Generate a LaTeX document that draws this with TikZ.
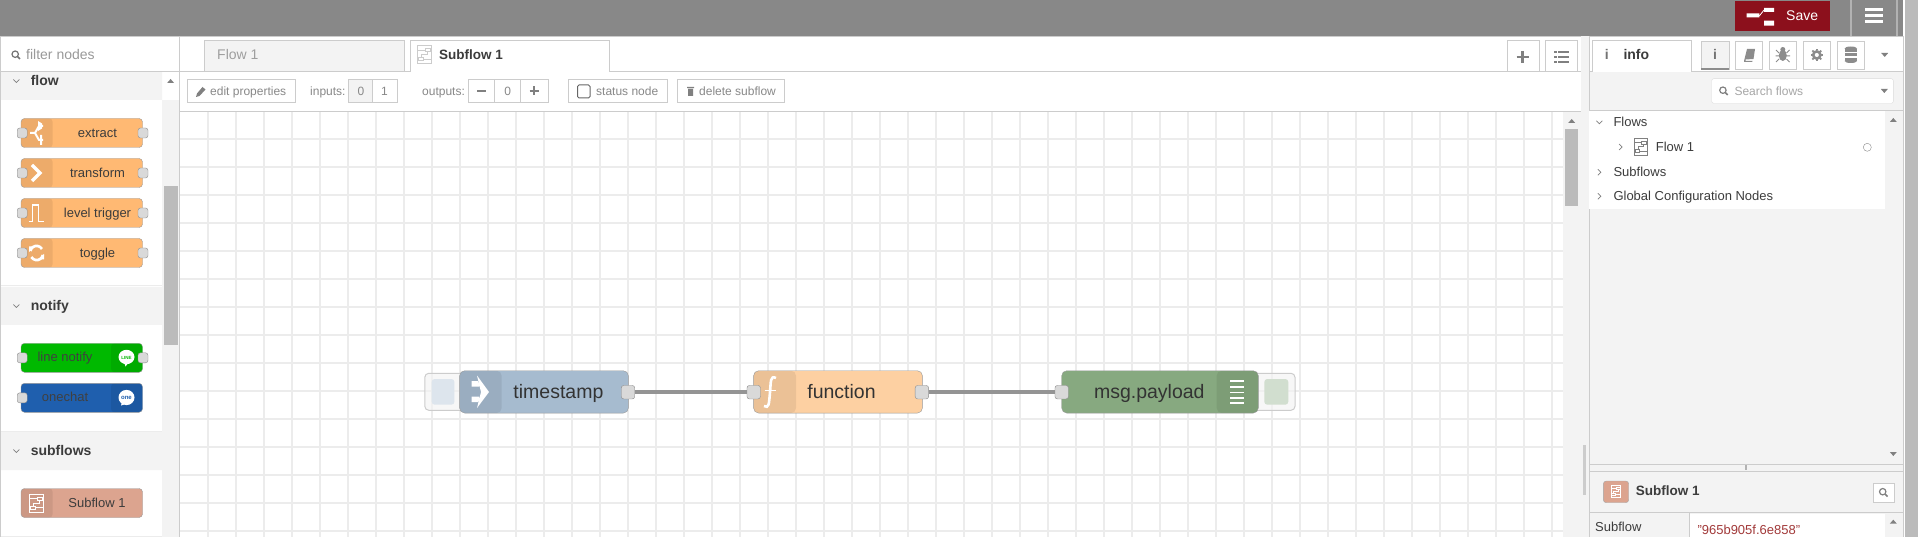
\documentclass[tikz,border=0pt]{standalone}
\usepackage{fontspec}
\setmainfont{Liberation Sans}
\definecolor{hdrgray}{HTML}{888888}
\definecolor{savered}{HTML}{8C101C}
\definecolor{panelgray}{HTML}{F3F3F3}
\definecolor{linegray}{HTML}{CCCCCC}
\definecolor{gridgray}{HTML}{ECECEC}
\definecolor{barthumb}{HTML}{BBBBBB}
\definecolor{darktext}{HTML}{3C3C3C}
\definecolor{softtext}{HTML}{888888}
\definecolor{palorange}{HTML}{FFB973}
\definecolor{subflowred}{HTML}{DCA48F}
\definecolor{linegreen}{HTML}{00B900}
\definecolor{oneblue}{HTML}{1F5FAE}
\definecolor{injectblue}{HTML}{A6BBCF}
\definecolor{funcorange}{HTML}{FDD0A2}
\definecolor{debuggreen}{HTML}{87A980}
\definecolor{valuered}{HTML}{A23A3A}
\tikzset{
    txt/.style={inner sep=0pt, anchor=mid west, yshift=-1.8pt, text=darktext, font=\fontsize{13}{15}\selectfont},
    midtxt/.style={txt, anchor=mid},
    bigtxt/.style={midtxt, yshift=-3pt, text=black!80, font=\fontsize{19.5}{22}\selectfont},
    toolbtn/.style={draw=linegray, fill=white},
    port/.style={draw=black!45, fill=black!15, rounded corners=2.5pt, inner sep=0pt, minimum width=#1, minimum height=#1},
    port/.default=10,
    bigport/.style={port=13.5},
    palbody/.style={draw=black!40, rounded corners=3.5pt, inner sep=0pt, minimum width=121.5, minimum height=29},
    flowbody/.style={draw=black!40, rounded corners=5pt, inner sep=0pt, minimum height=42.3},
    darkleft/.style={path picture={\fill[black, opacity=.07] (path picture bounding box.north west) rectangle ([xshift=#1]path picture bounding box.south west);}},
    darkright/.style={path picture={\fill[black, opacity=.07] (path picture bounding box.north east) rectangle ([xshift=-#1]path picture bounding box.south east);}},
    ghostbtn/.style={draw=black!20, line width=1pt, fill=panelgray, fill opacity=.6, rounded corners=4pt},
    wire/.style={draw=black!42, line width=3.6pt},
    gridline/.style={draw=gridgray, line width=2pt},
    chevron/.style={draw=black!50, line width=.7pt},
    iconline/.style={draw=white, line width=2pt},
    sidebtn/.style={draw=linegray, fill=white, inner sep=0pt, minimum width=27.5, minimum height=27.5},
}
% small helpers, all in picture coordinates
\newcommand{\chevdown}[2]{\draw[chevron] (#1-3,#2-1.5) -- (#1,#2+1.5) -- (#1+3,#2-1.5);}
\newcommand{\chevright}[2]{\draw[chevron] (#1-1.5,#2-3) -- (#1+1.5,#2) -- (#1-1.5,#2+3);}
\newcommand{\triup}[2]{\fill[black!50] (#1-3.5,#2+2) -- (#1+3.5,#2+2) -- (#1,#2-2) -- cycle;}
\newcommand{\tridown}[2]{\fill[black!50] (#1-3.5,#2-2) -- (#1+3.5,#2-2) -- (#1,#2+2) -- cycle;}
\newcommand{\lens}[3]{\draw[#3, line width=1.2pt] (#1-.8,#2-.8) circle (3.2); \draw[#3, line width=1.6pt] (#1+1.6,#2+1.6) -- (#1+4,#2+4);}
\newcommand{\sficon}[4]{
    \begin{scope}[shift={(#1,#2)}, scale=#4]
        \draw[#3, line width=1pt] (-7,-9) rectangle (7,9);
        \draw[#3, line width=1pt] (1,-6) rectangle (6,-3);
        \draw[#3, line width=1pt] (-6,3) rectangle (-1,6);
        \draw[#3, line width=1pt] (-7,-4.5) -- (1,-4.5) (6,-4.5) -- (7,-4.5) (-1,4.5) -- (7,4.5);
        \draw[#3, line width=1pt] (3,-3) -- (3,0) -- (-3,0) -- (-3,3);
    \end{scope}}
\begin{document}
\begin{tikzpicture}[x=1pt, y=-1pt]
    \useasboundingbox (0,0) rectangle (1920,537);
    \fill[white] (0,0) rectangle (1920,537);

    % Cabecera
    \fill[hdrgray] (0,0) rectangle (1903,36);
    \draw[linegray] (0,36) -- (1903,36);
    \fill[savered] (1735,1) rectangle (1830,31);
    \fill[white] (1746.7,13.5) rectangle (1759.3,17.5) (1764,8) rectangle (1774,12) (1764,20.7) rectangle (1774,25.7);
    \draw[white, line width=.8pt] (1759.3,16) -- (1764,10);
    \node[txt, text=white, font=\fontsize{14}{16}\selectfont] (savelabel) at (1786,16) {Save};
    \draw[black!30, line width=1.2pt] (1851,0) -- (1851,36) (1897,0) -- (1897,36);
    \foreach \by in {10,16,22}
        \draw[white, line width=3pt] (1865,\by) -- (1882.7,\by);
    % Barra de la ventana
    \fill[barthumb] (1905,0) rectangle (1917.7,537);

    % Paleta
    \fill[panelgray] (162,100) rectangle (179.5,537);
    \fill[barthumb] (164,186) rectangle (177.5,345);
    \fill[panelgray] (0,72) rectangle (162,100) (0,287) rectangle (162,325) (0,432) rectangle (162,470);
    \draw[gridgray, line width=1pt] (0,286) -- (162,286) (0,431.5) -- (162,431.5) (0,536) -- (162,536);
    \draw[linegray] (0,36) -- (0,537) (179.5,36) -- (179.5,537) (0,71) -- (179.5,71);
    \triup{170.6}{81}
    \lens{16}{55}{black!55}
    \node[txt, text=black!40, font=\fontsize{14}{16}\selectfont] (filterlabel) at (26,55) {filter nodes};
    \foreach \sname/\sy in {flow/81, notify/306, subflows/451} {
        \chevdown{16.3}{\sy}
        \node[txt, font=\bfseries\fontsize{14}{16}\selectfont] (head\sname) at (30.6,\sy) {\sname};
    }
    % Nodos de la paleta
    \foreach \pname/\py/\plabel in {extract/133/extract, transform/173/transform, trigger/213/level trigger, toggle/253/toggle} {
        \node[palbody, fill=palorange, darkleft=31.7] (\pname) at (81.75,\py) {};
        \node[port] (\pname in) at (22.2,\py) {};
        \node[port] (\pname out) at (143,\py) {};
        \node[midtxt] (\pname label) at (97.5,\py) {\plabel};
    }
    % Iconos de la paleta
    \draw[iconline] (30,133) -- (35,133) -- (39,126) -- (43,126) (35,133) -- (39,140) -- (43,140);
    \fill[white] (38,121) -- (42,123.5) -- (42,128.5) -- (38,131) -- cycle (40,135) -- (42,135) -- (42,145) -- (40,145) -- cycle;
    \draw[iconline, line width=3.4pt] (32,165) -- (40,173) -- (32,181);
    \draw[iconline, line width=1.4pt] (28.6,221.5) -- (32.5,221.5) -- (32.5,205) -- (38.5,205) -- (38.5,221.5) -- (44,221.5);
    \draw[iconline, line width=2.6pt] (30.5,251) arc (190:330:6.2) (42.8,255) arc (10:150:6.2);
    \fill[white] (29,246.5) -- (35,246.5) -- (29,252) -- cycle (44,259.5) -- (38,259.5) -- (44,254) -- cycle;

    \node[palbody, fill=linegreen, darkright=31.5] (linenotify) at (81.75,357.8) {};
    \node[port] (linenotify in) at (22.2,357.8) {};
    \node[port] (linenotify out) at (143,357.8) {};
    \node[midtxt, text=black!75] (linenotify label) at (65,357.5) {line notify};
    \fill[white] (126.5,357) ellipse (8 and 7.2) (124,362) -- (129,362) -- (125.5,366.5) -- cycle;
    \node[midtxt, yshift=1.8pt, text=linegreen, font=\bfseries\fontsize{4.5}{5}\selectfont] (linelogo) at (126.5,357) {LINE};

    \node[palbody, fill=oneblue, darkright=31.5] (onechat) at (81.75,397.8) {};
    \node[port] (onechat in) at (22.2,397.8) {};
    \node[midtxt, text=black!75] (onechat label) at (65,397.5) {onechat};
    \fill[white] (126.5,397.5) ellipse (8 and 7.6) (122,402) -- (126,404) -- (121,405.5) -- cycle;
    \node[midtxt, yshift=1.8pt, text=oneblue, font=\bfseries\fontsize{6}{7}\selectfont] (onelogo) at (126.5,397.3) {one};

    \node[palbody, fill=subflowred, darkleft=31.7] (subflowpal) at (81.75,503) {};
    \node[midtxt] (subflowpal label) at (97,503) {Subflow 1};
    \sficon{36.4}{503}{white}{1}

    % Pestanas
    \draw[linegray, fill=panelgray] (204,71) -- (204,40.5) -- (403.7,40.5) -- (403.7,71);
    \node[txt, text=black!38, font=\fontsize{14}{16}\selectfont] (flowtab) at (217,55) {Flow 1};
    \draw[linegray] (179.5,71) -- (1580.7,71);
    \draw[linegray, fill=white] (410,71.5) -- (410,40.5) -- (609.4,40.5) -- (609.4,71.5);
    \fill[white] (410.5,70) rectangle (609,72.5);
    \sficon{424.8}{55}{black!20}{1}
    \node[txt, font=\bfseries\fontsize{13.5}{16}\selectfont] (subflowtab) at (439,55) {Subflow 1};
    \draw[toolbtn] (1507,71) -- (1507,40.5) -- (1538.7,40.5) -- (1538.7,71);
    \draw[toolbtn] (1545.3,71) -- (1545.3,40.5) -- (1576.7,40.5) -- (1576.7,71);
    \draw[black!50, line width=2.6pt] (1516.7,57) -- (1528.7,57) (1522.7,51) -- (1522.7,63);
    \foreach \by in {52,57,62} {
        \draw[black!50, line width=1.6pt] (1558,\by) -- (1569,\by);
        \fill[black!50] (1554,\by-1) rectangle (1556.5,\by+1);
    }

    % Barra de herramientas
    \draw[linegray] (179.5,111.5) -- (1580.7,111.5);
    \draw[toolbtn] (187.3,79.3) rectangle (294.7,102.7);
    \fill[black!50] (196,97) -- (197,93.5) -- (202.5,87) -- (205.5,89.5) -- (199.5,96) -- cycle;
    \draw[toolbtn] (348,79.3) rectangle (396.7,102.7);
    \fill[panelgray] (348.5,79.8) rectangle (372.6,102.2);
    \draw[linegray] (372.6,79.3) -- (372.6,102.7);
    \draw[toolbtn] (468,79.3) rectangle (548,102.7);
    \draw[linegray] (494,79.3) -- (494,102.7) (520,79.3) -- (520,102.7);
    \draw[black!50, line width=2pt] (477,91) -- (486,91) (529.5,91) -- (538.5,91) (534,86.5) -- (534,95.5);
    \draw[toolbtn] (568.6,79.3) rectangle (667,102.7);
    \draw[black!60, line width=1pt, rounded corners=1.5pt] (577.5,85) rectangle (590,98);
    \draw[toolbtn] (677,79.3) rectangle (784,102.7);
    \fill[black!50] (687,87) rectangle (694,88.2) (688,88.8) rectangle (693,96);
    \foreach \tname/\tx/\tlabel in {edit/210/edit properties, inputs/310/inputs:, outputs/422/outputs:, status/596/status node, delete/699/delete subflow}
        \node[txt, text=softtext, font=\fontsize{12}{14}\selectfont] (\tname label) at (\tx,91) {\tlabel};
    \foreach \tname/\tx/\tlabel in {inzero/361/0, inone/384.5/1, outzero/507.8/0}
        \node[midtxt, text=softtext, font=\fontsize{12}{14}\selectfont] (\tname) at (\tx,91) {\tlabel};

    % Rejilla
    \foreach \gx in {0,...,48}
        \draw[gridline] ({208.3+28*\gx},112) -- ({208.3+28*\gx},537);
    \foreach \gy in {0,...,14}
        \draw[gridline] (180,{139.3+28*\gy}) -- (1563,{139.3+28*\gy});
    % Barra del lienzo
    \fill[panelgray] (1563,112) rectangle (1580.5,537);
    \fill[barthumb] (1565,129) rectangle (1577.7,206);
    \triup{1571.7}{121}
    \draw[linegray] (1580.7,71) -- (1580.7,537);
    \fill[panelgray] (1581.2,36.5) rectangle (1588.5,537);
    \fill[linegray] (1583,445) rectangle (1586,495);

    % Flujo
    \draw[ghostbtn] (470,373.3) rectangle (424.8,410.3);
    \fill[injectblue!38!white, rounded corners=3pt] (431.7,379) rectangle (454.4,404.7);
    \draw[ghostbtn] (1250,373.3) rectangle (1295,410.3);
    \fill[debuggreen!38!white, rounded corners=3pt] (1264.3,379) rectangle (1288.3,404.7);

    \node[flowbody, fill=injectblue, darkleft=42, minimum width=168.7] (timestamp) at (544,391.9) {};
    \node[flowbody, fill=funcorange, darkleft=42.4, minimum width=168.8] (function) at (838,391.9) {};
    \node[flowbody, fill=debuggreen, darkright=41.6, minimum width=196.6] (payload) at (1160,391.9) {};

    \node[bigport] (timestamp out) at (628,392.2) {};
    \node[bigport] (function in) at (753.7,392.2) {};
    \node[bigport] (function out) at (921.9,392.2) {};
    \node[bigport] (payload in) at (1061.7,392.2) {};
    \draw[wire] (timestamp out) -- (function in);
    \draw[wire] (function out) -- (payload in);

    \node[bigtxt] (timestamp label) at (558.4,391.5) {timestamp};
    \node[bigtxt] (function label) at (841.5,391.5) {function};
    \node[bigtxt] (payload label) at (1149.3,391.5) {msg.payload};

    % Iconos del flujo
    \fill[white] (471.7,381) rectangle (479,386.5) (471.7,396.5) rectangle (479,402) (477,375.5) -- (489,392) -- (477,408) -- (481,392) -- cycle;
    \draw[white, line width=2.6pt] (776,378) .. controls (770,375) and (771,382) .. (770,392) .. controls (769,404) and (769,409) .. (764,406);
    \draw[white, line width=1.8pt] (764.5,390.5) -- (776,390.5);
    \foreach \by in {381,386.7,392.4,398.1,403}
        \draw[white, line width=1.7pt] (1230,\by) -- (1244,\by);

    % Barra lateral
    \fill[panelgray] (1589,72) rectangle (1902.5,537);
    \draw[linegray] (1589,71.5) -- (1902.7,71.5);
    \draw[linegray] (1588.7,36.5) -- (1588.7,537) (1902.7,36.5) -- (1902.7,537);
    \draw[linegray, fill=white] (1592.3,72) -- (1592.3,40.5) -- (1690.7,40.5) -- (1690.7,72);
    \fill[white] (1592.8,70) rectangle (1690.2,72.5);
    \node[midtxt, text=black!55, font=\bfseries\fontsize{14}{16}\selectfont] (infoglyph) at (1606.7,55) {i};
    \node[txt, font=\bfseries\fontsize{14}{16}\selectfont] (infotab) at (1623.3,55) {info};
    \node[sidebtn, fill=panelgray] (infobtn) at (1715,55) {};
    \draw[black!45, line width=1.2pt] (infobtn.south west) -- (infobtn.south east);
    \node[sidebtn] (bookbtn) at (1748.8,55) {};
    \node[sidebtn] (bugbtn) at (1782.8,55) {};
    \node[sidebtn] (gearbtn) at (1816.8,55) {};
    \node[sidebtn] (dbbtn) at (1850.8,55) {};
    \node[midtxt, text=black!55, font=\bfseries\fontsize{14}{16}\selectfont] (infoglyphb) at (infobtn) {i};
    \fill[black!45] (1744,61) -- (1747,49) -- (1755,49) -- (1753.5,59) -- (1745.5,59.5) -- (1745.5,61) -- (1752.5,61) -- (1752,62) -- (1744,62) -- cycle;
    \fill[black!45] (1782.8,55.5) ellipse (4 and 5.5) (1782.8,49.5) circle (2.5);
    \draw[black!45, line width=1pt] (1776,50) -- (1779,53) (1789.5,50) -- (1786.5,53) (1775.5,56) -- (1790,56) (1776,62) -- (1779,59) (1789.5,62) -- (1786.5,59);
    \draw[black!45, line width=2.6pt] (1816.8,55) circle (3.6);
    \foreach \ga in {0,45,...,315}
        \draw[black!45, line width=1.8pt] (1816.8,55) ++(\ga:4.5) -- ++(\ga:1.8);
    \foreach \dy in {49,53.5,58}
        \fill[black!45] (1844.7,\dy) rectangle (1857,\dy+3);
    \fill[black!45] (1850.8,48.5) ellipse (6.2 and 2) (1850.8,61) ellipse (6.2 and 2);
    \tridown{1884.7}{55}

    \draw[draw=linegray!70, fill=white, rounded corners=2pt] (1711.7,78.7) rectangle (1893.3,103.3);
    \lens{1723.7}{91}{black!50}
    \node[txt, text=black!35, font=\fontsize{12}{14}\selectfont] (searchlabel) at (1734.3,91) {Search flows};
    \tridown{1884.3}{91}

    % Arbol
    \fill[white] (1589.2,111) rectangle (1885,209);
    \draw[linegray] (1589,110.5) -- (1902.7,110.5);
    \triup{1893.3}{120}
    \tridown{1893.3}{454}
    \chevdown{1599.3}{122.3}
    \chevright{1620.7}{147}
    \chevright{1599.3}{172.3}
    \chevright{1599.3}{196.3}
    \node[txt] (treeflows) at (1613.3,122.3) {Flows};
    \sficon{1640.8}{147}{black!50}{.92}
    \node[txt] (treeflow) at (1655.7,147) {Flow 1};
    \node[draw=black!45, circle, inner sep=0pt, minimum size=8] (treedot) at (1867.3,147.3) {};
    \node[txt] (treesubflows) at (1613.3,172.3) {Subflows};
    \node[txt] (treeglobal) at (1613.3,196.3) {Global Configuration Nodes};

    % Separador y detalle
    \draw[linegray] (1589,464.5) -- (1902.7,464.5) (1589,470.7) -- (1902.7,470.7);
    \fill[black!30] (1744.5,465) rectangle (1747,470);
    \draw[draw=black!35, fill=subflowred, rounded corners=3pt] (1603.3,481) rectangle (1628.7,502.7);
    \sficon{1616}{491.8}{white}{.68}
    \node[txt, font=\bfseries\fontsize{13.5}{16}\selectfont] (detailname) at (1635.7,491) {Subflow 1};
    \draw[draw=linegray, fill=white] (1873.3,483) rectangle (1893.7,502);
    \lens{1883.5}{492.5}{black!50}
    \draw[linegray, line width=1pt] (1589,512.7) -- (1902.7,512.7);
    \fill[white] (1689,513.5) rectangle (1885,537);
    \draw[linegray] (1688.7,513) -- (1688.7,537);
    \node[txt] (detailkey) at (1595,527) {Subflow};
    \node[txt, text=valuered] (detailvalue) at (1697.3,530) {"965b905f.6e858"};
    \triup{1893.3}{521.7}
\end{tikzpicture}
\end{document}
